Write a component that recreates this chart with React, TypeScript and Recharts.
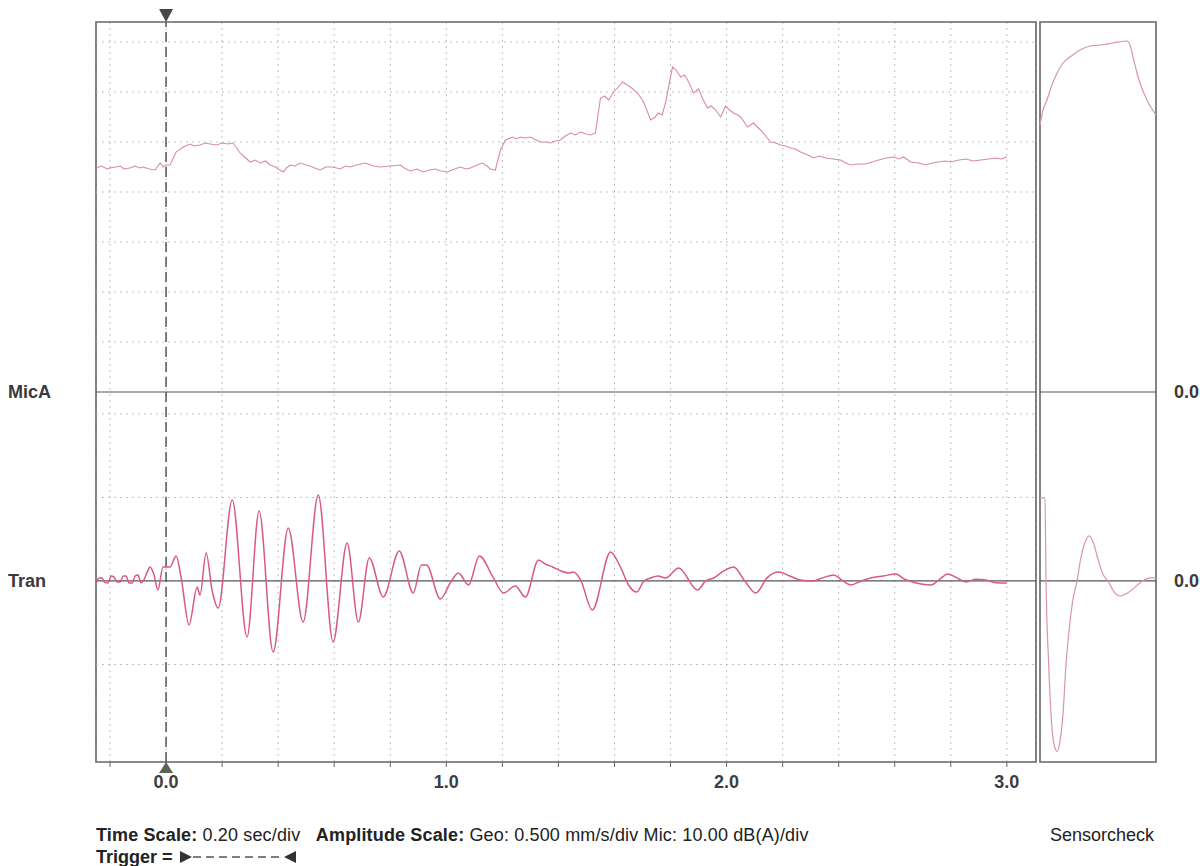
import { LineChart, Line, XAxis, YAxis, CartesianGrid, ReferenceLine, ReferenceArea } from 'recharts';

// [time (s), level (dB(A))]
const micA: [number, number][] = [
  [-0.25, 44.8], [-0.23, 45.2], [-0.21, 44.6], [-0.2, 44.8], [-0.18, 45.0], [-0.164, 45.2], [-0.15, 44.6],
  [-0.129, 44.8], [-0.11, 45.2], [-0.095, 44.8], [-0.082, 45.0], [-0.06, 44.6], [-0.039, 44.4], [-0.021, 45.8],
  [-0.01, 45.0], [0, 45.4], [0.014, 45.4], [0.036, 48.0], [0.061, 49.0], [0.086, 49.6], [0.1, 49.2],
  [0.121, 49.4], [0.14, 49.8], [0.157, 49.6], [0.18, 49.4], [0.2, 49.8], [0.22, 49.6], [0.239, 49.8],
  [0.264, 47.8], [0.28, 47.0], [0.3, 46.0], [0.318, 46.4], [0.336, 45.8], [0.355, 46.2], [0.371, 45.4],
  [0.39, 45.0], [0.4, 44.6], [0.418, 44.0], [0.43, 44.8], [0.443, 45.4], [0.46, 45.2], [0.479, 45.8],
  [0.5, 45.4], [0.514, 45.2], [0.53, 44.8], [0.55, 44.4], [0.57, 45.0], [0.596, 45.0], [0.621, 44.6],
  [0.64, 45.2], [0.657, 45.0], [0.68, 45.4], [0.711, 45.8], [0.74, 45.2], [0.764, 45.0], [0.8, 45.2],
  [0.836, 45.4], [0.85, 44.8], [0.871, 44.2], [0.895, 44.6], [0.918, 44.0], [0.94, 44.4], [0.961, 44.6],
  [0.98, 44.2], [1.004, 44.0], [1.03, 44.6], [1.05, 45.0], [1.07, 44.6], [1.086, 44.8], [1.11, 45.4],
  [1.129, 45.8], [1.145, 45.2], [1.157, 44.6], [1.175, 44.4], [1.193, 48.4], [1.211, 50.4], [1.236, 51.0],
  [1.25, 50.6], [1.264, 51.0], [1.28, 50.8], [1.3, 51.0], [1.32, 50.4], [1.336, 50.0], [1.355, 50.0],
  [1.371, 49.8], [1.39, 50.2], [1.407, 50.4], [1.425, 51.2], [1.443, 51.8], [1.46, 51.4], [1.479, 52.0],
  [1.5, 51.6], [1.514, 51.4], [1.532, 51.8], [1.55, 58.8], [1.565, 59.2], [1.579, 58.4], [1.592, 59.6],
  [1.604, 60.4], [1.62, 61.4], [1.629, 62.0], [1.645, 61.4], [1.657, 61.0], [1.682, 59.8], [1.7, 58.4],
  [1.711, 57.0], [1.729, 54.4], [1.745, 55.0], [1.757, 55.8], [1.77, 55.4], [1.782, 57.8], [1.807, 65.0],
  [1.82, 64.4], [1.836, 63.0], [1.85, 63.4], [1.861, 62.4], [1.882, 59.8], [1.9, 60.6], [1.915, 58.6],
  [1.932, 56.8], [1.945, 57.2], [1.961, 56.4], [1.979, 55.0], [1.996, 57.2], [2.01, 56.4], [2.025, 55.8],
  [2.04, 55.4], [2.05, 55.0], [2.075, 53.0], [2.096, 53.8], [2.121, 52.4], [2.14, 51.2], [2.157, 50.0],
  [2.175, 49.8], [2.193, 49.4], [2.21, 49.2], [2.229, 48.8], [2.245, 48.6], [2.264, 48.0], [2.29, 47.4],
  [2.311, 46.8], [2.33, 47.2], [2.354, 46.8], [2.38, 46.6], [2.407, 46.4], [2.425, 45.8], [2.443, 45.4],
  [2.47, 45.6], [2.496, 45.6], [2.52, 46.0], [2.543, 46.4], [2.57, 46.8], [2.596, 47.0], [2.615, 46.6],
  [2.632, 47.0], [2.657, 46.0], [2.685, 45.8], [2.711, 45.4], [2.735, 45.8], [2.754, 46.0], [2.78, 46.2],
  [2.8, 46.0], [2.83, 46.4], [2.854, 46.6], [2.88, 46.2], [2.907, 46.4], [2.935, 46.6], [2.961, 46.8],
  [2.98, 46.6], [3.0, 47.0],
];

// [time (s), velocity (mm/s)]
const tran: [number, number][] = [
  [-0.25, 0], [-0.235, 0.02], [-0.229, 0.018], [-0.218, -0.01], [-0.207, -0.012], [-0.196, 0.03], [-0.186, 0.024],
  [-0.175, -0.006], [-0.164, -0.006], [-0.153, 0.03], [-0.143, 0.03], [-0.132, -0.012], [-0.121, -0.012],
  [-0.11, 0.03], [-0.1, 0.036], [-0.09, -0.01], [-0.079, 0.006], [-0.068, 0.05], [-0.057, 0.084], [-0.043, 0.036],
  [-0.029, -0.054], [-0.011, 0.084], [0.014, 0.084], [0.036, 0.15], [0.054, 0.018], [0.082, -0.263],
  [0.111, -0.036], [0.121, -0.084], [0.143, 0.168], [0.164, -0.054], [0.186, -0.162], [0.236, 0.485],
  [0.289, -0.335], [0.332, 0.419], [0.382, -0.425], [0.436, 0.317], [0.489, -0.246], [0.543, 0.515],
  [0.596, -0.365], [0.646, 0.228], [0.686, -0.246], [0.725, 0.138], [0.775, -0.096], [0.832, 0.18],
  [0.882, -0.072], [0.911, 0.096], [0.929, 0.096], [0.979, -0.108], [1.014, -0.012], [1.043, 0.048],
  [1.079, -0.024], [1.118, 0.15], [1.168, 0.018], [1.204, -0.072], [1.246, -0.03], [1.282, -0.096],
  [1.329, 0.126], [1.355, 0.1], [1.379, 0.084], [1.41, 0.06], [1.436, 0.048], [1.454, 0.054], [1.479, 0.006],
  [1.521, -0.174], [1.586, 0.174], [1.621, 0.084], [1.65, -0.024], [1.679, -0.066], [1.705, 0.0], [1.729, 0.018],
  [1.755, 0.03], [1.782, 0.018], [1.829, 0.078], [1.896, -0.054], [1.925, 0.0], [1.954, 0.018], [1.99, 0.06],
  [2.025, 0.084], [2.065, 0.0], [2.104, -0.072], [2.145, 0.02], [2.186, 0.054], [2.225, 0.03], [2.264, 0.006],
  [2.307, 0.0], [2.345, 0.02], [2.382, 0.036], [2.415, 0.0], [2.443, -0.024], [2.48, 0.0], [2.514, 0.018],
  [2.56, 0.03], [2.604, 0.042], [2.635, 0.01], [2.664, -0.006], [2.7, -0.02], [2.729, -0.024], [2.76, 0.01],
  [2.789, 0.042], [2.82, 0.02], [2.854, -0.006], [2.89, 0.01], [2.925, 0.006], [2.96, -0.01], [3.0, -0.012],
];

// sensorcheck pulses, [sample %, value]
const sensorMic: [number, number][] = [
  [0, 53.4], [2.6, 56.4], [6.0, 58.4], [10.3, 61.4], [14.7, 63.8], [19.8, 65.8], [25.9, 67.0], [34.5, 68.4],
  [43.1, 69.2], [51.7, 69.4], [62.9, 69.8], [75.0, 70.2], [77.6, 69.4], [80.2, 67.0], [83.6, 63.8],
  [86.2, 61.8], [92.2, 58.4], [100, 55.4],
];
const sensorTran: [number, number][] = [
  [0, 0.497], [4.3, 0.497], [5.2, 0.0], [7.5, -0.5], [9.5, -0.8], [12.1, -0.98], [14.7, -1.02],
  [17.2, -0.96], [19.8, -0.8], [22.4, -0.5], [25.0, -0.3], [28.0, -0.13], [31.9, 0], [35.0, 0.13],
  [38.8, 0.23], [42.2, 0.27], [45.7, 0.235], [50.0, 0.13], [54.3, 0.04], [58.6, 0], [63.8, -0.065],
  [69, -0.09], [75.9, -0.07], [86.2, -0.012], [94.8, 0.018], [100, 0.018],
];

const timeTicks = [-0.2, 0, 0.2, 0.4, 0.6, 0.8, 1, 1.2, 1.4, 1.6, 1.8, 2, 2.2, 2.4, 2.6, 2.8, 3];
const majorTimeTicks = [1, 2, 3];
const micTicks = [10, 20, 30, 40, 50, 60, 70];
const tranTicks = [-1, -0.5, 0.5, 1];
const tranGrid = [-0.5, 0.5, 1];

const TIME_DOMAIN: [number, number] = [-0.25, 3.104];
const MIC_DOMAIN: [number, number] = [-74, 74];
const TRAN_DOMAIN: [number, number] = [-1.084, 3.347];
const SENSOR_DOMAIN: [number, number] = [0, 100];

const FONT = '"Liberation Sans", Arial, sans-serif';
const FRAME = '#666';
const GRID = '#c0c0c0';

const toRows = (pts: [number, number][]) => pts.map(([t, v]) => ({ t, v }));

const sideLabel = (text: string, dx: number, anchor: string) => (props: any) => {
  const vb = props.viewBox;
  return (
    <text x={vb.x + dx} y={vb.y} dy="0.36em" textAnchor={anchor}
      style={{ fontFamily: FONT, fontSize: 18, fontWeight: 'bold', fill: '#3a3a3a' }}>
      {text}
    </text>
  );
};

const triggerMarks = (props: any) => {
  const { x, y, height } = props.viewBox;
  const b = y + height;
  return (
    <g>
      <polygon points={`${x - 7},${y - 13} ${x + 7},${y - 13} ${x},${y}`} fill="#474747" />
      <polygon points={`${x - 7},${b + 11} ${x + 7},${b + 11} ${x},${b}`} fill="#5b6352" />
    </g>
  );
};

const fmtTime = (v: number) => (Math.abs(v - Math.round(v)) < 1e-6 ? v.toFixed(1) : '');

export default function App() {
  return (
    <div style={{ position: 'absolute', left: 0, top: 0, width: 1200, height: 866, background: '#fff', fontFamily: FONT }}>
      <div style={{ position: 'absolute', left: 0, top: 0 }}>
        <LineChart width={1200} height={866} margin={{ top: 22, left: 96, right: 164, bottom: 74 }}>
          <XAxis dataKey="t" type="number" domain={TIME_DOMAIN} allowDataOverflow ticks={timeTicks}
            height={30} tickSize={5} tickMargin={8} axisLine={false} tickLine={{ stroke: FRAME }}
            tickFormatter={fmtTime} interval={0}
            tick={{ fontFamily: FONT, fontSize: 18, fontWeight: 'bold', fill: '#3d3d3d' }} />
          <XAxis xAxisId="top" dataKey="t" type="number" orientation="top" domain={TIME_DOMAIN} allowDataOverflow
            ticks={timeTicks} height={0} tickSize={4} tick={false} axisLine={false} tickLine={{ stroke: FRAME }} />
          <XAxis xAxisId="topMajor" dataKey="t" type="number" orientation="top" domain={TIME_DOMAIN} allowDataOverflow
            ticks={majorTimeTicks} height={0} tickSize={10} tick={false} axisLine={false} tickLine={{ stroke: FRAME }} />
          <YAxis yAxisId="mic" type="number" domain={MIC_DOMAIN} allowDataOverflow ticks={micTicks} width={0}
            tickSize={7} tick={false} axisLine={false} tickLine={{ stroke: FRAME }} />
          <YAxis yAxisId="tran" type="number" domain={TRAN_DOMAIN} allowDataOverflow ticks={tranTicks} width={0}
            tickSize={7} tick={false} axisLine={false} tickLine={{ stroke: FRAME }} />
          <CartesianGrid yAxisId="mic" horizontal={false} vertical stroke={GRID} strokeDasharray="2 4" />
          {micTicks.map((v) => (
            <ReferenceLine key={'m' + v} yAxisId="mic" y={v} stroke={GRID} strokeDasharray="2 4" />
          ))}
          {tranGrid.map((v) => (
            <ReferenceLine key={'t' + v} yAxisId="tran" y={v} stroke={GRID} strokeDasharray="2 4" />
          ))}
          <ReferenceArea yAxisId="mic" x1={TIME_DOMAIN[0]} x2={TIME_DOMAIN[1]} y1={MIC_DOMAIN[0]} y2={MIC_DOMAIN[1]}
            fill="none" stroke={FRAME} strokeWidth={1.6} fillOpacity={0} />
          <ReferenceLine yAxisId="mic" y={0} stroke="#555" strokeWidth={1.2} label={sideLabel('MicA', -88, 'start')} />
          <ReferenceLine yAxisId="tran" y={0} stroke="#555" strokeWidth={1.2} label={sideLabel('Tran', -88, 'start')} />
          <ReferenceLine yAxisId="mic" x={0} stroke="#555" strokeWidth={1.5} strokeDasharray="10 5" label={triggerMarks} />
          <Line yAxisId="mic" data={toRows(micA)} dataKey="v" type="linear" stroke="#d88aa8" strokeWidth={1.1}
            dot={false} isAnimationActive={false} />
          <Line yAxisId="tran" data={toRows(tran)} dataKey="v" type="monotone" stroke="#d95a80" strokeWidth={1.5}
            dot={false} isAnimationActive={false} />
        </LineChart>
      </div>
      <div style={{ position: 'absolute', left: 0, top: 0 }}>
        <LineChart width={1200} height={866} margin={{ top: 22, left: 1040, right: 44, bottom: 104 }}>
          <XAxis dataKey="t" type="number" domain={SENSOR_DOMAIN} hide />
          <YAxis yAxisId="mic" type="number" domain={MIC_DOMAIN} allowDataOverflow hide />
          <YAxis yAxisId="tran" type="number" domain={TRAN_DOMAIN} allowDataOverflow hide />
          <ReferenceArea yAxisId="mic" x1={SENSOR_DOMAIN[0]} x2={SENSOR_DOMAIN[1]} y1={MIC_DOMAIN[0]} y2={MIC_DOMAIN[1]}
            fill="none" stroke={FRAME} strokeWidth={1.6} fillOpacity={0} />
          <ReferenceLine yAxisId="mic" y={0} stroke="#555" strokeWidth={1.2} label={sideLabel('0.0', 134, 'start')} />
          <ReferenceLine yAxisId="tran" y={0} stroke="#555" strokeWidth={1.2} label={sideLabel('0.0', 134, 'start')} />
          <Line yAxisId="mic" data={toRows(sensorMic)} dataKey="v" type="monotone" stroke="#d995ab" strokeWidth={1.2}
            dot={false} isAnimationActive={false} />
          <Line yAxisId="tran" data={toRows(sensorTran)} dataKey="v" type="monotone" stroke="#d995ab" strokeWidth={1.2}
            dot={false} isAnimationActive={false} />
        </LineChart>
      </div>
      <div style={{ position: 'absolute', left: 96, top: 824, fontSize: 18, lineHeight: '22px', color: '#222', whiteSpace: 'pre', letterSpacing: 0.15 }}>
        <b>Time Scale:</b> 0.20 sec/div   <b>Amplitude Scale:</b> Geo: 0.500 mm/s/div Mic: 10.00 dB(A)/div
      </div>
      <div style={{ position: 'absolute', left: 96, top: 846, fontSize: 18, lineHeight: '22px', color: '#222', whiteSpace: 'pre', display: 'flex', alignItems: 'center' }}>
        <b>Trigger = </b>
        <svg width={120} height={16} style={{ marginLeft: 2 }}>
          <polygon points="0,2 12,8 0,14" fill="#333" />
          <line x1={13} y1={8} x2={104} y2={8} stroke="#555" strokeWidth={1.3} strokeDasharray="8 5" />
          <polygon points="116,2 104,8 116,14" fill="#333" />
        </svg>
      </div>
      <div style={{ position: 'absolute', left: 1050, top: 824, fontSize: 18, lineHeight: '22px', color: '#222' }}>
        Sensorcheck
      </div>
    </div>
  );
}
